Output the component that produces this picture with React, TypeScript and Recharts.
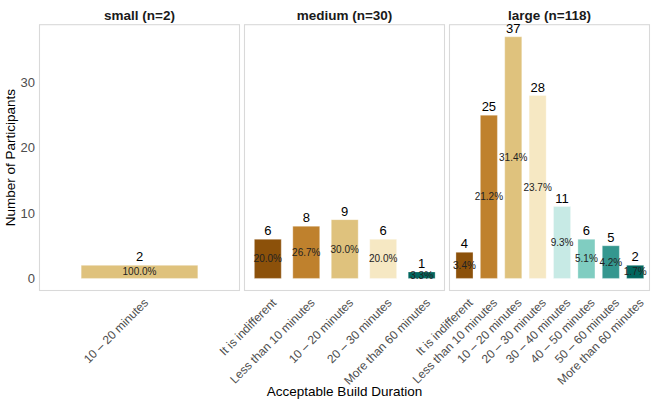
import React from "react";
import { BarChart, Bar, XAxis, YAxis, Cell, LabelList } from "recharts";

// categories and counts per facet
const smallCategories = ["10 – 20 minutes"];
const smallCounts = [2];

const mediumCategories = [
  "It is indifferent",
  "Less than 10 minutes",
  "10 – 20 minutes",
  "20 – 30 minutes",
  "More than 60 minutes",
];
const mediumCounts = [6, 8, 9, 6, 1];

const largeCategories = [
  "It is indifferent",
  "Less than 10 minutes",
  "10 – 20 minutes",
  "20 – 30 minutes",
  "30 – 40 minutes",
  "40 – 50 minutes",
  "50 – 60 minutes",
  "More than 60 minutes",
];
const largeCounts = [4, 25, 37, 28, 11, 6, 5, 2];

const facetTitles = ["small (n=2)", "medium (n=30)", "large (n=118)"];
const yTicks = [0, 10, 20, 30];

// BrBG palette, one colour per answer
const categoryColors: Record<string, string> = {
  "It is indifferent": "#8C510A",
  "Less than 10 minutes": "#BF812D",
  "10 – 20 minutes": "#DFC27D",
  "20 – 30 minutes": "#F6E8C3",
  "30 – 40 minutes": "#C7EAE5",
  "40 – 50 minutes": "#80CDC1",
  "50 – 60 minutes": "#35978F",
  "More than 60 minutes": "#01665E",
};

const W = 654;
const H = 404;
const FONT = "'Liberation Sans', Arial, Helvetica, sans-serif";
const PANEL_W = 200;
const PANEL_TOP = 24.7;
const PANEL_BOTTOM = 290.5;
const panelLefts = [39.5, 244.5, 449.5];
const Y_AXIS_W = 30;

function RotatedTick(props: any) {
  const { x, y, payload } = props;
  return (
    <text
      transform={`translate(${x + 3.5},${y + 7}) rotate(-45)`}
      textAnchor="end"
      dy="0.71em"
      fontSize={12}
      fill="#4d4d4d"
      fontFamily={FONT}
    >
      {payload.value}
    </text>
  );
}

type PanelProps = {
  categories: string[];
  counts: number[];
  left: number;
  showY: boolean;
};

function Panel({ categories, counts, left, showY }: PanelProps) {
  const n = counts.reduce((a, b) => a + b, 0);
  const data = categories.map((c, i) => ({
    category: c,
    count: counts[i],
    pct: ((counts[i] / n) * 100).toFixed(1) + "%",
  }));
  // ggplot discrete expansion: 0.6 units on each side of the outer categories
  const unit = PANEL_W / (categories.length + 0.2);

  return (
    <div style={{ position: "absolute", left: 0, top: 0 }}>
      <BarChart
        width={W}
        height={H}
        data={data}
        margin={{
          top: PANEL_TOP,
          right: W - left - PANEL_W,
          bottom: 13.5,
          left: showY ? left - Y_AXIS_W : left,
        }}
      >
        <XAxis
          dataKey="category"
          type="category"
          interval={0}
          axisLine={false}
          tickLine={false}
          tickSize={0}
          tickMargin={0}
          height={H - PANEL_BOTTOM - 13.5}
          padding={{ left: 0.1 * unit, right: 0.1 * unit }}
          tick={(p: any) => <RotatedTick {...p} />}
        />
        <YAxis
          type="number"
          domain={[-1.85, 38.85]}
          allowDataOverflow
          ticks={yTicks}
          hide={!showY}
          width={Y_AXIS_W}
          axisLine={false}
          tickLine={false}
          tickSize={0}
          tickMargin={4.5}
          tick={{ fontSize: 13, fill: "#4d4d4d", fontFamily: FONT }}
        />
        <Bar
          dataKey="count"
          barSize={0.7 * unit}
          isAnimationActive={false}
          stroke="#ffffff"
          strokeOpacity={0.55}
          strokeWidth={0.6}
        >
          {data.map((d) => (
            <Cell key={d.category} fill={categoryColors[d.category]} />
          ))}
          <LabelList
            dataKey="count"
            position="top"
            offset={4}
            fontSize={13}
            fill="#000000"
            fontFamily={FONT}
          />
          <LabelList
            dataKey="pct"
            position="center"
            fontSize={10}
            fill="#222222"
            fontFamily={FONT}
          />
        </Bar>
      </BarChart>
    </div>
  );
}

export default function App() {
  const panelMid = (PANEL_TOP + PANEL_BOTTOM) / 2;
  return (
    <div
      style={{
        position: "absolute",
        left: 0,
        top: 0,
        width: W,
        height: H,
        background: "#ffffff",
        fontFamily: FONT,
      }}
    >
      <svg width={W} height={H} style={{ position: "absolute", left: 0, top: 0 }}>
        {panelLefts.map((l, i) => (
          <g key={i}>
            <rect
              x={l}
              y={PANEL_TOP}
              width={PANEL_W}
              height={PANEL_BOTTOM - PANEL_TOP}
              fill="none"
              stroke="#d9d9d9"
              strokeWidth={1.1}
            />
            <text
              x={l + PANEL_W / 2}
              y={19.5}
              textAnchor="middle"
              fontSize={13.5}
              fontWeight="bold"
              fill="#1a1a1a"
              fontFamily={FONT}
            >
              {facetTitles[i]}
            </text>
          </g>
        ))}
        <text
          x={15.5}
          y={panelMid}
          transform={`rotate(-90 15.5 ${panelMid})`}
          textAnchor="middle"
          fontSize={13.5}
          fill="#000000"
          fontFamily={FONT}
        >
          Number of Participants
        </text>
        <text
          x={(panelLefts[0] + panelLefts[2] + PANEL_W) / 2}
          y={396}
          textAnchor="middle"
          fontSize={13.5}
          fill="#000000"
          fontFamily={FONT}
        >
          Acceptable Build Duration
        </text>
      </svg>
      <Panel categories={smallCategories} counts={smallCounts} left={panelLefts[0]} showY />
      <Panel categories={mediumCategories} counts={mediumCounts} left={panelLefts[1]} showY={false} />
      <Panel categories={largeCategories} counts={largeCounts} left={panelLefts[2]} showY={false} />
    </div>
  );
}
